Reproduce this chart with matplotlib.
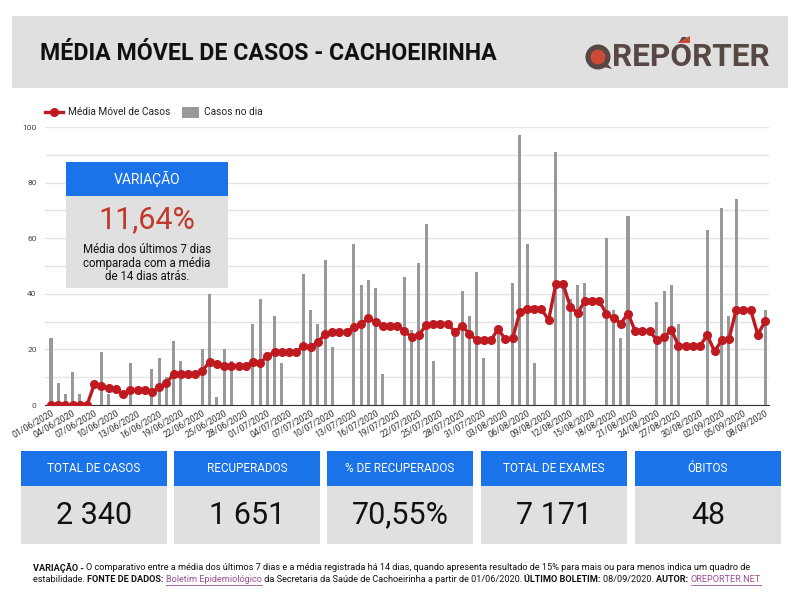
import numpy as np
import pandas as pd
import matplotlib
matplotlib.use("Agg")
import matplotlib.pyplot as plt
from matplotlib.patches import Rectangle, Ellipse, Polygon
from matplotlib.lines import Line2D

plt.rcParams['font.family'] = ['Roboto', 'DejaVu Sans']

# dados (01/06/2020 a 08/09/2020)
datas = pd.date_range("2020-06-01", "2020-09-08").strftime("%d/%m/%Y").tolist()

casos_no_dia = [24, 8, 4, 12, 4, 0, 0, 19, 4, 0,
                0, 15, 0, 0, 13, 17, 10, 23, 16, 0,
                0, 20, 40, 3, 20, 16, 0, 0, 29, 38,
                16, 32, 15, 0, 0, 47, 34, 29, 52, 21,
                0, 0, 58, 43, 45, 42, 11, 0, 0, 46,
                27, 51, 65, 16, 0, 0, 26, 41, 32, 48,
                17, 0, 27, 0, 44, 97, 58, 15, 0, 0,
                91, 45, 38, 43, 44, 0, 0, 60, 34, 24,
                68, 0, 0, 0, 37, 41, 43, 29, 0, 0,
                0, 63, 0, 71, 32, 74, 0, 0, 0, 34]

media_movel = [0, 0, 0, 0, 0, 0, 7.4, 6.7, 6.1, 5.6,
               3.9, 5.4, 5.4, 5.4, 4.6, 6.4, 7.9, 11.1, 11.3, 11.3,
               11.3, 12.3, 15.6, 14.6, 14.1, 14.1, 14.1, 14.1, 15.4, 15.1,
               17.6, 19.1, 19.1, 18.9, 18.9, 21.4, 20.9, 22.7, 25.4, 26.3,
               26.3, 26.3, 27.9, 29.1, 31.3, 29.9, 28.4, 28.4, 28.4, 26.7,
               24.4, 25.3, 28.6, 29.3, 29.3, 29.3, 26.3, 28.4, 25.7, 23.3,
               23.4, 23.4, 27.3, 23.6, 24.0, 33.3, 34.7, 34.4, 34.4, 30.6,
               43.6, 43.6, 35.3, 33.1, 37.3, 37.3, 37.3, 32.9, 31.3, 29.3,
               32.9, 26.6, 26.6, 26.6, 23.3, 24.3, 27.0, 21.4, 21.4, 21.4,
               21.4, 25.1, 19.3, 23.3, 23.7, 34.3, 34.3, 34.3, 25.3, 30.1]

card_titulos = ["TOTAL DE CASOS", "RECUPERADOS", "% DE RECUPERADOS", "TOTAL DE EXAMES", "ÓBITOS"]
card_valores = ["2 340", "1 651", "70,55%", "7 171", "48"]

variacao = "11,64%"

W, H = 800, 598
fig = plt.figure(figsize=(8, 5.98), dpi=100)
fig.patch.set_facecolor("white")
r = fig.canvas.get_renderer()

AZUL = "#1a73e8"
CINZA = "#e0e0e0"
VERMELHO = "#bf1a1f"
MARROM = "#574745"


def fx(px):
    return px / W


def fy(py):
    return 1 - py / H


def caixa(x0, y0, x1, y1, cor, z=2):
    fig.add_artist(Rectangle((fx(x0), fy(y1)), fx(x1 - x0), (y1 - y0) / H,
                             transform=fig.transFigure, facecolor=cor,
                             edgecolor="none", zorder=z))


def ajusta(t, largura):
    w = t.get_window_extent(r).width
    t.set_fontsize(t.get_fontsize() * largura / w)


# cabeçalho
caixa(12, 16, 788, 88, CINZA, z=1)
tit = fig.text(fx(40), fy(53), "MÉDIA MÓVEL DE CASOS - CACHOEIRINHA", fontsize=17,
               fontweight="bold", color="#111111", va="center", ha="left")
ajusta(tit, 457)

# logo
fig.add_artist(Polygon([(fx(600), fy(66)), (fx(612), fy(69)), (fx(606), fy(62))],
                       closed=True, transform=fig.transFigure,
                       facecolor=MARROM, edgecolor="none", zorder=3))
fig.add_artist(Ellipse((fx(598), fy(57)), 2 * 12.5 / W, 2 * 12.5 / H,
                       transform=fig.transFigure, facecolor=MARROM, zorder=3))
fig.add_artist(Ellipse((fx(598), fy(57)), 2 * 7.5 / W, 2 * 7.5 / H,
                       transform=fig.transFigure, facecolor="#cc4b37", zorder=4))
logo = fig.text(fx(612), fy(57), "REPÓRTER", fontsize=24, fontweight="bold",
                color=MARROM, va="center", ha="left", zorder=4)
ajusta(logo, 158)
fig.add_artist(Polygon([(fx(677), fy(43)), (fx(690), fy(43)), (fx(690), fy(36))],
                       closed=True, transform=fig.transFigure,
                       facecolor="#cc4b37", edgecolor="none", zorder=5))

# gráfico
ax = fig.add_axes([fx(45), fy(405), fx(769) - fx(45), (405 - 127) / H])
x = np.arange(len(casos_no_dia))
ax.bar(x, casos_no_dia, width=0.42, color="#999999", zorder=2)
ax.plot(x, media_movel, color=VERMELHO, lw=2.4, marker="o", ms=5.5, zorder=3)
ax.set_xlim(-0.83, 99.55)
ax.set_ylim(0, 100)
ax.set_yticks(range(0, 101, 20))
ax.set_yticks(range(10, 100, 20), minor=True)
ax.grid(axis="y", which="both", color="#e4e4e4", lw=1, zorder=0)
ax.tick_params(axis="y", which="both", length=0, labelsize=6, labelcolor="#444444", pad=6)
ax.set_xticks(x[::3])
ax.set_xticklabels(datas[::3], rotation=30, ha="right", rotation_mode="anchor",
                   fontsize=6.3, color="#333333")
ax.tick_params(axis="x", length=0, pad=3)
for s in ["top", "left", "right"]:
    ax.spines[s].set_visible(False)
ax.spines["bottom"].set_color("#333333")
ax.set_axisbelow(True)

# legenda
fig.add_artist(Line2D([fx(45), fx(63)], [fy(112), fy(112)], transform=fig.transFigure,
                      color=VERMELHO, lw=2.4))
fig.add_artist(Line2D([fx(54)], [fy(112)], transform=fig.transFigure,
                      color=VERMELHO, marker="o", ms=5.5, lw=0))
fig.text(fx(68), fy(112), "Média Móvel de Casos", fontsize=7.3, color="#222222", va="center")
caixa(182, 107, 199, 118, "#999999")
fig.text(fx(204), fy(112), "Casos no dia", fontsize=7.3, color="#222222", va="center")

# quadro de variação
caixa(66, 162, 228, 196, AZUL, z=5)
caixa(66, 196, 228, 288, CINZA, z=5)
fig.text(fx(147), fy(179), "VARIAÇÃO", fontsize=10, color="white", ha="center",
         va="center", zorder=6)
fig.text(fx(147), fy(220), variacao, fontsize=22, color="#c0392b", ha="center",
         va="center", zorder=6)
for i, linha in enumerate(["Média dos últimos 7 dias", "comparada com a média",
                           "de 14 dias atrás."]):
    fig.text(fx(147), fy(249 + 14 * i), linha, fontsize=8.3, color="#111111",
             ha="center", va="center", zorder=6)

# cartões
for x0, t, v in zip([21, 174, 327, 481, 635], card_titulos, card_valores):
    caixa(x0, 451, x0 + 146, 486, AZUL)
    caixa(x0, 486, x0 + 146, 544, CINZA)
    fig.text(fx(x0 + 73), fy(468), t, fontsize=8.5, color="white", ha="center", va="center")
    fig.text(fx(x0 + 73), fy(515), v, fontsize=22, color="#111111", ha="center", va="center")


# rodapé
def larg(s, **kw):
    t = fig.text(0, 0, s + "|", **kw)
    w1 = t.get_window_extent(r).width
    t.remove()
    t = fig.text(0, 0, "|", **kw)
    w2 = t.get_window_extent(r).width
    t.remove()
    return w1 - w2


ROXO = "#9b4f96"
linhas = [
    [("VARIAÇÃO - ", "bold", "#111111", False),
     ("O comparativo entre a média dos últimos 7 dias e a média registrada há 14 dias, "
      "quando apresenta resultado de 15% para mais ou para menos indica um quadro de",
      "normal", "#111111", False)],
    [("estabilidade. ", "normal", "#111111", False),
     ("FONTE DE DADOS: ", "bold", "#111111", False),
     ("Boletim Epidemiológico", "normal", ROXO, True),
     (" da Secretaria da Saúde de Cachoeirinha a partir de 01/06/2020. ", "normal", "#111111", False),
     ("ÚLTIMO BOLETIM: ", "bold", "#111111", False),
     ("08/09/2020. ", "normal", "#111111", False),
     ("AUTOR: ", "bold", "#111111", False),
     ("OREPORTER.NET", "normal", ROXO, True)],
]
FS = 6.2
w_l1 = sum(larg(p[0], fontsize=FS, fontweight=p[1]) for p in linhas[0])
FS = FS * 724 / w_l1
for j, partes in enumerate(linhas):
    px = 33
    py = 568 + 12 * j
    for txt, peso, cor, sub in partes:
        fig.text(fx(px), fy(py), txt, fontsize=FS, fontweight=peso, color=cor, va="center")
        w = larg(txt, fontsize=FS, fontweight=peso)
        if sub:
            fig.add_artist(Line2D([fx(px), fx(px + w)], [fy(py + 5), fy(py + 5)],
                                  transform=fig.transFigure, color=cor, lw=0.6))
        px += w

fig.savefig("out.png", dpi=100)
